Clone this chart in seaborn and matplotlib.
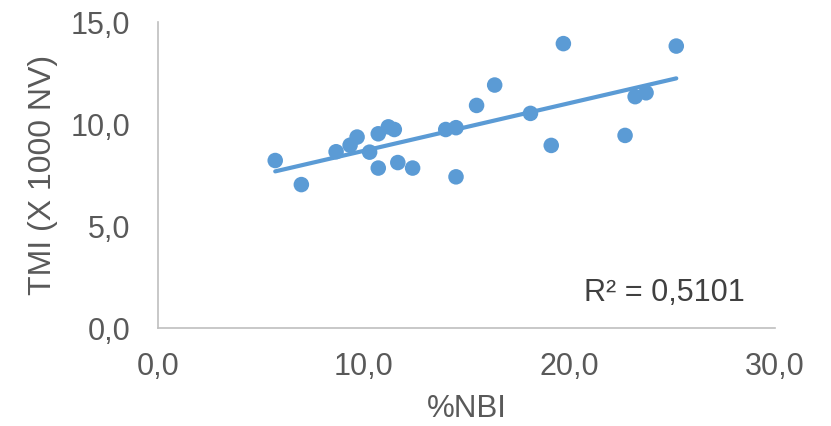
import matplotlib
matplotlib.use("Agg")
import matplotlib.pyplot as plt
import seaborn as sns
import pandas as pd
from matplotlib.ticker import FuncFormatter

nbi = [5.70, 6.97, 8.66, 9.34, 9.68, 10.29, 10.71, 10.71, 11.20, 11.49, 11.66, 12.38,
       13.99, 14.49, 14.49, 15.49, 16.37, 18.11, 19.12, 19.71, 22.71, 23.20, 23.73, 25.20]
tmi = [8.21, 7.03, 8.64, 8.96, 9.36, 8.62, 9.52, 7.84, 9.86, 9.73, 8.11, 7.84,
       9.73, 9.82, 7.41, 10.91, 11.91, 10.52, 8.95, 13.94, 9.44, 11.34, 11.53, 13.82]
x_ticks = [0, 10, 20, 30]
y_ticks = [0, 5, 10, 15]
r2_label = "R² = 0,5101"
x_label = "%NBI"
y_label = "TMI (X 1000 NV)"

df = pd.DataFrame({"nbi": nbi, "tmi": tmi})

sns.set_style("white")
plt.rcParams["font.family"] = ["Liberation Sans", "DejaVu Sans"]

fig = plt.figure(figsize=(8.31, 4.26), dpi=100)
ax = fig.add_axes([158 / 831, 1 - 328 / 426, 617 / 831, 306 / 426])

blue = "#5B9BD5"
sns.regplot(data=df, x="nbi", y="tmi", ax=ax, ci=None,
            scatter_kws=dict(s=125, color=blue, edgecolor="none", alpha=1, zorder=3),
            line_kws=dict(color=blue, lw=3.0, solid_capstyle="round", zorder=2))

ax.set_xlim(0, 30)
ax.set_ylim(0, 15)
ax.set_xticks(x_ticks)
ax.set_yticks(y_ticks)
fmt = FuncFormatter(lambda v, p: f"{v:.1f}".replace(".", ","))
ax.xaxis.set_major_formatter(fmt)
ax.yaxis.set_major_formatter(fmt)
ax.tick_params(axis="both", length=0, labelsize=22, labelcolor="#595959")
ax.tick_params(axis="x", pad=17)
ax.tick_params(axis="y", pad=20)

ax.set_xlabel(x_label, fontsize=22.5, color="#595959")
ax.set_ylabel(y_label, fontsize=23, color="#595959")
ax.xaxis.set_label_coords(0.5, -66 / 306)
ax.yaxis.set_label_coords(-100 / 617, 0.5)

for s in ["top", "right"]:
    ax.spines[s].set_visible(False)
for s in ["left", "bottom"]:
    ax.spines[s].set_color("#BFBFBF")
    ax.spines[s].set_linewidth(1.2)

ax.text(24.6, 1.72, r2_label, fontsize=22, color="#404040", ha="center", va="center")

fig.savefig("out.png", dpi=100)
